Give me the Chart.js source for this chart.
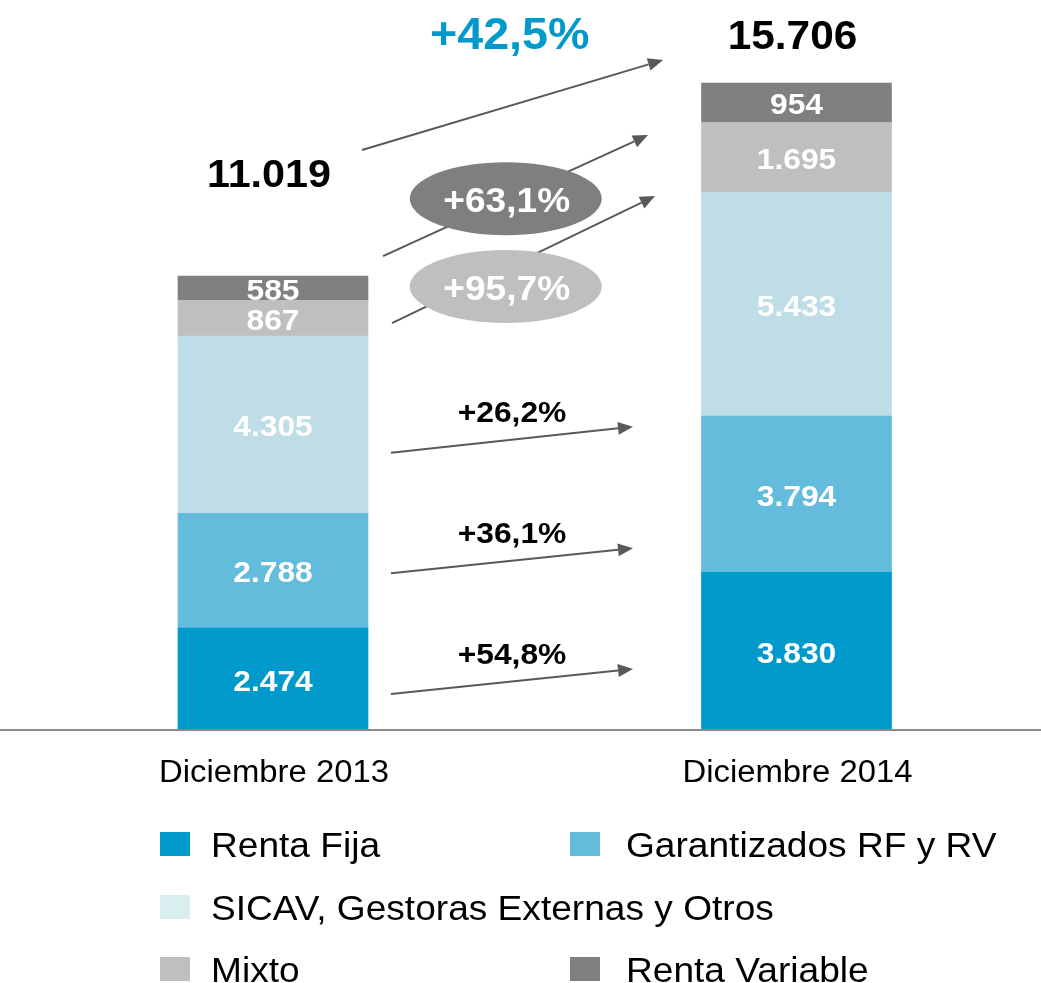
<!DOCTYPE html>
<html>
<head>
<meta charset="utf-8">
<script src="https://cdn.jsdelivr.net/npm/chart.js@4"></script>
<style>
  html, body { margin: 0; padding: 0; background: #fff; }
  #wrap { width: 1041px; height: 983px; position: relative; }
</style>
</head>
<body>
<div id="wrap"><canvas id="grafico"></canvas></div>
<script>
// Datos (millones)
const categorias = ['Diciembre 2013', 'Diciembre 2014'];
const rentaFija = [2474, 3830];
const garantizados = [2788, 3794];
const sicav = [4305, 5433];
const mixto = [867, 1695];
const rentaVariable = [585, 954];
const totales = [11019, 15706];
// crecimiento por serie (en el mismo orden) y total
const crecimientos = ['+54,8%', '+36,1%', '+26,2%', '+95,7%', '+63,1%'];
const crecimientoTotal = '+42,5%';

const series = [
  { label: 'Renta Fija', data: rentaFija, color: '#0099cc', swatch: '#0099cc' },
  { label: 'Garantizados RF y RV', data: garantizados, color: '#63bcdc', swatch: '#63bcdc' },
  { label: 'SICAV, Gestoras Externas y Otros', data: sicav, color: '#bedde6', swatch: '#daeef0' },
  { label: 'Mixto', data: mixto, color: '#bfbfbf', swatch: '#bfbfbf' },
  { label: 'Renta Variable', data: rentaVariable, color: '#808080', swatch: '#808080' }
];

const FONT = '"Liberation Sans", Arial, sans-serif';

function formato(n) {
  return String(n).replace(/\B(?=(\d{3})+(?!\d))/g, '.');
}

function texto(ctx, s, x, y, size, color, bold, align) {
  ctx.save();
  ctx.font = (bold ? 'bold ' : '') + size + 'px ' + FONT;
  ctx.fillStyle = color;
  ctx.textAlign = align || 'center';
  ctx.textBaseline = 'alphabetic';
  ctx.translate(x, y);
  ctx.scale(1.06, 1);
  ctx.fillText(s, 0, 0);
  ctx.restore();
}

function flecha(ctx, x1, y1, x2, y2) {
  const ang = Math.atan2(y2 - y1, x2 - x1);
  const len = 15, half = 6.5;
  const bx = x2 - len * Math.cos(ang), by = y2 - len * Math.sin(ang);
  ctx.save();
  ctx.strokeStyle = '#595959';
  ctx.fillStyle = '#595959';
  ctx.lineWidth = 2;
  ctx.beginPath();
  ctx.moveTo(x1, y1);
  ctx.lineTo(bx, by);
  ctx.stroke();
  ctx.beginPath();
  ctx.moveTo(x2, y2);
  ctx.lineTo(bx + half * Math.sin(ang), by - half * Math.cos(ang));
  ctx.lineTo(bx - half * Math.sin(ang), by + half * Math.cos(ang));
  ctx.closePath();
  ctx.fill();
  ctx.restore();
}

// flechas: desplazamientos x respecto al centro de cada barra, y en valores del eje
const flechas = [
  { dx1: 118, v1: 874, dx2: -163.5, v2: 1481 },
  { dx1: 118, v1: 3804, dx2: -163.5, v2: 4411 },
  { dx1: 118, v1: 6732, dx2: -163.5, v2: 7363 },
  { dx1: 119, v1: 9880, dx2: -141.5, v2: 12963 },
  { dx1: 110, v1: 11507, dx2: -148.5, v2: 14444 }
];
const flechaTotal = { dx1: 89, v1: 14080, dx2: -133.5, v2: 16265 };

const anotaciones = {
  id: 'anotaciones',
  afterDatasetsDraw(chart) {
    const ctx = chart.ctx;
    const xs = chart.scales.x, ys = chart.scales.y;
    const c1 = xs.getPixelForValue(0), c2 = xs.getPixelForValue(1);
    const y0 = ys.getPixelForValue(0);

    // eje
    ctx.save();
    ctx.strokeStyle = '#8a8a8a';
    ctx.lineWidth = 2;
    ctx.beginPath();
    ctx.moveTo(0, y0);
    ctx.lineTo(chart.width, y0);
    ctx.stroke();
    ctx.restore();

    // etiquetas de segmentos
    chart.data.datasets.forEach((ds, i) => {
      const meta = chart.getDatasetMeta(i);
      meta.data.forEach((bar, j) => {
        const mid = (bar.y + bar.base) / 2;
        texto(ctx, formato(ds.data[j]), bar.x, mid + 11.5, 30, '#ffffff', true);
      });
    });

    // totales
    totales.forEach((t, j) => {
      const top = ys.getPixelForValue(t);
      const x = xs.getPixelForValue(j);
      const off = j === 0 ? 89 : 34;
      texto(ctx, formato(t), x - 4, top - off, j === 0 ? 39 : 40, '#000000', true);
    });

    // flechas por serie
    flechas.forEach(f => {
      flecha(ctx, c1 + f.dx1, ys.getPixelForValue(f.v1), c2 + f.dx2, ys.getPixelForValue(f.v2));
    });
    flecha(ctx, c1 + flechaTotal.dx1, ys.getPixelForValue(flechaTotal.v1),
      c2 + flechaTotal.dx2, ys.getPixelForValue(flechaTotal.v2));

    // porcentajes de las tres series inferiores, sobre su flecha
    for (let i = 0; i < 3; i++) {
      const f = flechas[i];
      const xa = c1 + f.dx1, xb = c2 + f.dx2;
      const ya = ys.getPixelForValue(f.v1), yb = ys.getPixelForValue(f.v2);
      texto(ctx, crecimientos[i], (xa + xb) / 2, (ya + yb) / 2 - 18, 30, '#000000', true);
    }

    // elipses (Mixto y Renta Variable)
    const elipses = [
      { serie: 3, fill: '#bfbfbf', cy: ys.getPixelForValue(10766) },
      { serie: 4, fill: '#7f7f7f', cy: ys.getPixelForValue(12900) }
    ];
    const ex = (c1 + c2) / 2 - 29;
    elipses.forEach(e => {
      ctx.save();
      ctx.fillStyle = e.fill;
      ctx.beginPath();
      ctx.ellipse(ex, e.cy, 96, 36.5, 0, 0, Math.PI * 2);
      ctx.fill();
      ctx.restore();
      texto(ctx, crecimientos[e.serie], ex + 1, e.cy + 13, 35, '#ffffff', true);
    });

    // crecimiento total
    texto(ctx, crecimientoTotal, (c1 + c2) / 2 - 25, ys.getPixelForValue(16000) - 22, 44, '#0099cc', true);

    // categorias
    categorias.forEach((c, j) => {
      texto(ctx, c, xs.getPixelForValue(j) + 1, y0 + 52, 31, '#000000', false);
    });

    // leyenda
    const filas = [844, 907, 969];
    const colSw = [160, 570], colTx = [211, 626];
    const pos = [[0, 0], [0, 1], [1, 0], [2, 0], [2, 1]];
    series.forEach((s, i) => {
      const [r, c] = pos[i];
      ctx.fillStyle = s.swatch;
      ctx.fillRect(colSw[c], filas[r] - 12, 30, 24);
      texto(ctx, s.label, colTx[c], filas[r] + 12.5, 35, '#000000', false, 'left');
    });
  }
};

new Chart(document.getElementById('grafico'), {
  type: 'bar',
  data: {
    labels: categorias,
    datasets: series.map(s => ({
      label: s.label,
      data: s.data,
      backgroundColor: s.color,
      borderWidth: 0,
      barThickness: 190,
      clip: false
    }))
  },
  options: {
    responsive: true,
    maintainAspectRatio: false,
    animation: false,
    layout: { padding: { left: 273, right: 244.5, top: 71, bottom: 253 } },
    plugins: {
      legend: { display: false },
      tooltip: { enabled: false }
    },
    scales: {
      x: { display: false, stacked: true, offset: false },
      y: { display: false, stacked: true, min: 0, max: 16000 }
    }
  },
  plugins: [anotaciones]
});
</script>
</body>
</html>
